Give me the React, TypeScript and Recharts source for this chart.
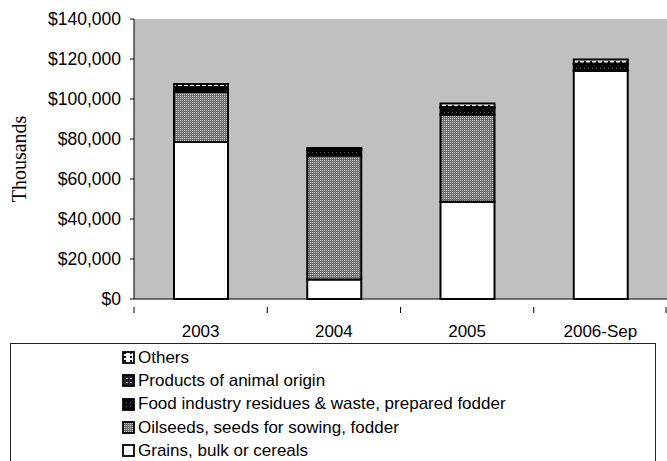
import { Bar, BarChart, CartesianGrid, XAxis, YAxis } from "recharts"

const categories = ["2003", "2004", "2005", "2006-Sep"]
const grains = [78500, 9800, 48600, 114000]
const oilseeds = [25000, 62000, 43700, 500]
const foodResidues = [2000, 2800, 3200, 2800]
const animalProducts = [500, 400, 500, 500]
const others = [1500, 500, 1800, 2000]
const yTicks = [0, 20000, 40000, 60000, 80000, 100000, 120000, 140000]

const seriesInfo = [
    { key: "others", name: "Others", fill: "url(#pOthers)" },
    { key: "animal", name: "Products of animal origin", fill: "url(#pAnimal)" },
    { key: "food", name: "Food industry residues & waste, prepared fodder", fill: "url(#pFood)" },
    { key: "oilseeds", name: "Oilseeds, seeds for sowing, fodder", fill: "url(#pOil)" },
    { key: "grains", name: "Grains, bulk or cereals", fill: "#ffffff" },
]

const data = categories.map((name, i) => ({
    name,
    grains: grains[i],
    oilseeds: oilseeds[i],
    food: foodResidues[i],
    animal: animalProducts[i],
    others: others[i],
}))

const W = 667
const H = 461
const PLOT_LEFT = 134
const BAND = (W - PLOT_LEFT) / categories.length
const FONT = "'Liberation Sans', Arial, sans-serif"

const fmt = (v: number) => `$${v.toLocaleString("en-US")}`

function XTick(props: any) {
    const { x, y, payload, index } = props
    return (
        <g>
            <line x1={x - BAND / 2} x2={x - BAND / 2} y1={y} y2={y + 6} stroke="#000" />
            {index === categories.length - 1 && (
                <line x1={x + BAND / 2 - 1} x2={x + BAND / 2 - 1} y1={y} y2={y + 6} stroke="#000" />
            )}
            <text x={x} y={y + 30} textAnchor="middle" fontSize={17} fontFamily={FONT} fill="#000">
                {payload.value}
            </text>
        </g>
    )
}

function Swatch({ fill }: { fill: string }) {
    return (
        <svg width={13} height={13} style={{ marginRight: 3, flex: "none" }}>
            <rect x={1} y={1} width={11} height={11} fill={fill} stroke="#000" strokeWidth={1.8} />
        </svg>
    )
}

export default function App() {
    return (
        <div style={{ position: "absolute", left: 0, top: 0, width: W, height: H, background: "#fff", overflow: "hidden" }}>
            <BarChart width={W} height={H} data={data} barSize={54} margin={{ top: 19, right: 0, left: 0, bottom: 132 }}>
                <defs>
                    <pattern id="pOil" width={2} height={2} patternUnits="userSpaceOnUse">
                        <rect width={2} height={2} fill="#6e6e6e" />
                        <rect width={1} height={1} fill="#c8c8c8" />
                    </pattern>
                    <pattern id="pFood" width={4} height={4} patternUnits="userSpaceOnUse">
                        <rect width={4} height={4} fill="#000" />
                        <rect width={1} height={1} fill="#555" />
                    </pattern>
                    <pattern id="pAnimal" width={4} height={4} patternUnits="userSpaceOnUse">
                        <rect width={4} height={4} fill="#222" />
                        <rect width={2} height={1} fill="#bbb" />
                    </pattern>
                    <pattern id="pOthers" width={6} height={4} patternUnits="userSpaceOnUse">
                        <rect width={6} height={4} fill="#fff" />
                        <rect x={2} y={1} width={2} height={2} fill="#000" />
                    </pattern>
                </defs>
                <CartesianGrid horizontal={false} vertical={false} fill="#c0c0c0" fillOpacity={1} />
                <XAxis
                    dataKey="name"
                    height={30}
                    axisLine={{ stroke: "#000", strokeWidth: 1 }}
                    tickLine={false}
                    tick={<XTick />}
                    interval={0}
                />
                <YAxis
                    width={PLOT_LEFT}
                    domain={[0, 140000]}
                    ticks={yTicks}
                    tickFormatter={fmt}
                    axisLine={{ stroke: "#000" }}
                    tickLine={{ stroke: "#000" }}
                    tickSize={4}
                    tickMargin={9}
                    tick={{ fill: "#000", fontSize: 17.5, fontFamily: FONT }}
                    label={{
                        value: "Thousands",
                        angle: -90,
                        position: "insideLeft",
                        offset: 19,
                        style: { textAnchor: "middle", fontFamily: "'Liberation Serif', 'Times New Roman', serif", fontSize: 20, fill: "#000" },
                    }}
                />
                {[...seriesInfo].reverse().map((s) => (
                    <Bar
                        key={s.key}
                        dataKey={s.key}
                        name={s.name}
                        stackId="a"
                        fill={s.fill}
                        stroke="#000"
                        strokeWidth={2}
                        isAnimationActive={false}
                    />
                ))}
            </BarChart>
            <div
                style={{
                    position: "absolute",
                    left: 10,
                    top: 343,
                    width: 646,
                    height: 140,
                    border: "1px solid #222",
                    boxSizing: "border-box",
                    background: "#fff",
                    fontFamily: FONT,
                    fontSize: 17,
                    color: "#000",
                    paddingTop: 2,
                }}
            >
                {seriesInfo.map((s) => (
                    <div key={s.key} style={{ display: "flex", alignItems: "center", height: 23.3, paddingLeft: 111, whiteSpace: "nowrap" }}>
                        <Swatch fill={s.fill} />
                        <span>{s.name}</span>
                    </div>
                ))}
            </div>
        </div>
    )
}
